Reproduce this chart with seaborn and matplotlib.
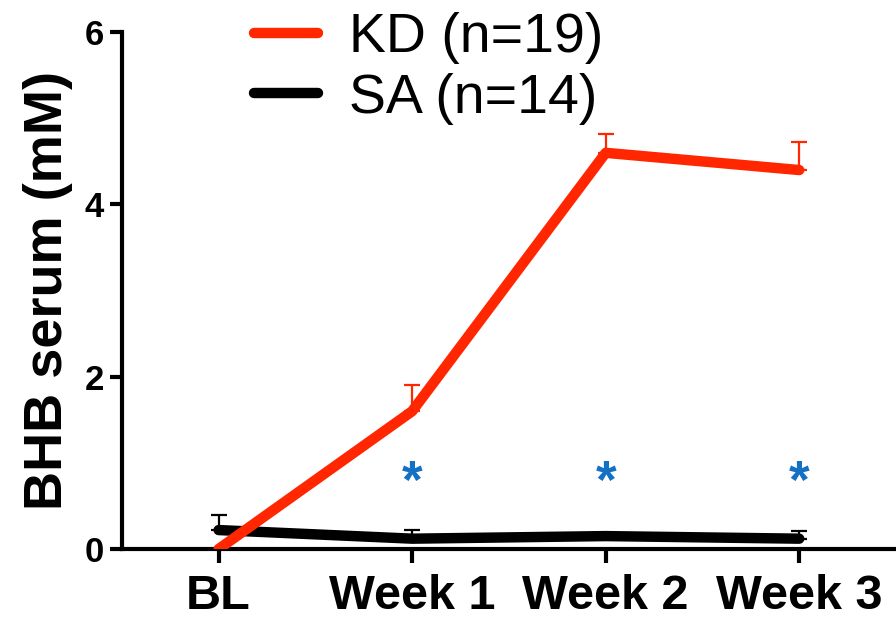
import matplotlib
matplotlib.use("Agg")
import matplotlib.pyplot as plt
import numpy as np
import pandas as pd
import seaborn as sns

# data
TIMEPOINTS = ["BL", "Week 1", "Week 2", "Week 3"]
KD_MEAN = [0.0, 1.60, 4.60, 4.40]
KD_SEM = [0.0, 0.31, 0.22, 0.33]
SA_MEAN = [0.22, 0.12, 0.15, 0.12]
SA_SEM = [0.18, 0.10, 0.04, 0.09]
SIG_POS = ["Week 1", "Week 2", "Week 3"]
SIG_Y = 0.76
LABELS = ["KD (n=19)", "SA (n=14)"]

RED = "#FF2600"
BLACK = "#000000"
BLUE = "#1470C4"

sns.set_style("ticks")
plt.rcParams["font.family"] = ["Liberation Sans", "DejaVu Sans"]
plt.rcParams["text.color"] = "black"
plt.rcParams["axes.labelcolor"] = "black"
plt.rcParams["xtick.color"] = "black"
plt.rcParams["ytick.color"] = "black"
plt.rcParams["axes.edgecolor"] = "black"

df = pd.DataFrame({
    "time": TIMEPOINTS * 2,
    "bhb": SA_MEAN + KD_MEAN,
    "group": [LABELS[1]] * 4 + [LABELS[0]] * 4,
})

fig = plt.figure(figsize=(8.96, 6.2), dpi=100)
ax = fig.add_axes([0.136, 0.1145, 0.864, 0.8335])

xpos = np.arange(len(TIMEPOINTS))
# upper-only error bars, drawn below the lines
for mean, sem, col in [(SA_MEAN, SA_SEM, BLACK), (KD_MEAN, KD_SEM, RED)]:
    yerr = np.vstack([np.zeros(len(sem)), sem])
    ax.errorbar(xpos, mean, yerr=yerr, fmt="none", ecolor=col,
                elinewidth=1.6, capsize=6, capthick=1.6, zorder=2)

sns.lineplot(data=df, x="time", y="bhb", hue="group",
             hue_order=[LABELS[1], LABELS[0]],
             palette={LABELS[0]: RED, LABELS[1]: BLACK},
             linewidth=7.5, ax=ax, zorder=3, legend=False)
for ln in ax.get_lines():
    ln.set_solid_capstyle("round")
    ln.set_solid_joinstyle("round")

for t in SIG_POS:
    ax.text(TIMEPOINTS.index(t), SIG_Y, "*", color=BLUE, fontsize=38,
            fontweight="bold", ha="center", va="center")

ax.set_xlim(-0.5, 3.5)
ax.set_ylim(0, 6)
ax.set_yticks([0, 2, 4, 6])
ax.set_xticks(xpos)
ax.set_xticklabels(TIMEPOINTS)
ax.set_xlabel("")
ax.set_ylabel("BHB serum (mM)", fontsize=39, fontweight="bold", labelpad=8)
ax.tick_params(axis="y", labelsize=25, width=3, length=9, pad=4)
ax.tick_params(axis="x", labelsize=35, width=3, length=10, pad=8)
for lab in ax.get_xticklabels() + ax.get_yticklabels():
    lab.set_fontweight("bold")
for s in ["left", "bottom"]:
    ax.spines[s].set_linewidth(3)
sns.despine(ax=ax)

handles = [plt.Line2D([], [], color=RED, lw=7.5, solid_capstyle="round"),
           plt.Line2D([], [], color=BLACK, lw=7.5, solid_capstyle="round")]
fig.legend(handles, LABELS, loc="upper left", bbox_to_anchor=(0.253, 1.025),
           frameon=False, fontsize=40, handlelength=1.15, handletextpad=0.55,
           labelspacing=0.15, borderpad=0.0)

fig.savefig("out.png", dpi=100)
